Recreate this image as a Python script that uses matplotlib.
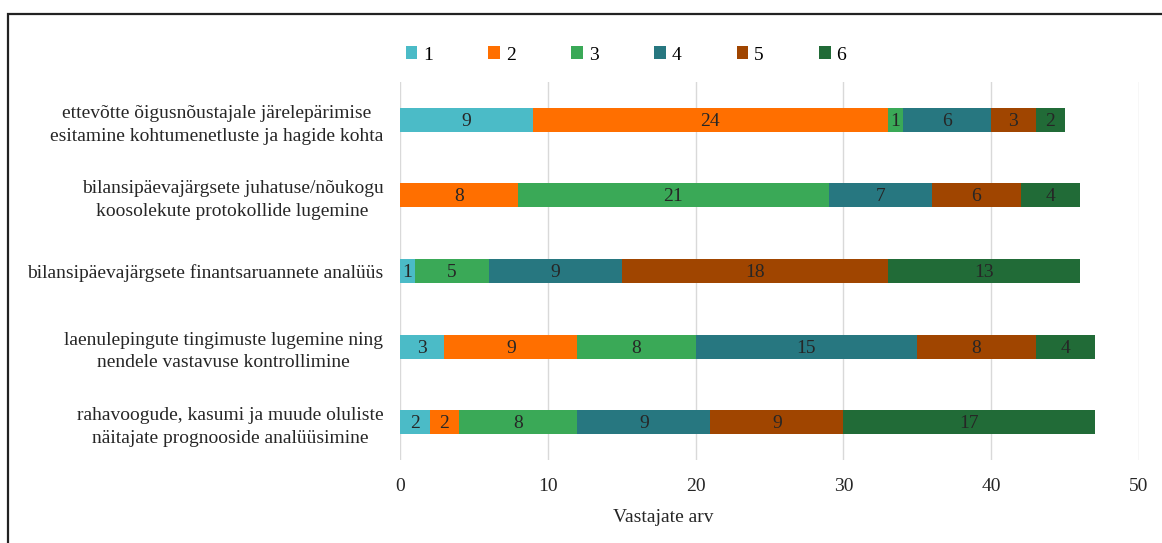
import numpy as np
import matplotlib.pyplot as plt
from matplotlib.patches import Rectangle

plt.rcParams['font.family'] = ['Liberation Serif', 'DejaVu Serif']

# tegevused (ülevalt alla)
categories = [
    "ettevõtte õigusnõustajale järelepärimise\nesitamine kohtumenetluste ja hagide kohta",
    "bilansipäevajärgsete juhatuse/nõukogu\nkoosolekute protokollide lugemine",
    "bilansipäevajärgsete finantsaruannete analüüs",
    "laenulepingute tingimuste lugemine ning\nnendele vastavuse kontrollimine",
    "rahavoogude, kasumi ja muude oluliste\nnäitajate prognooside analüüsimine",
]
series_names = ["1", "2", "3", "4", "5", "6"]
s1 = [9, 0, 1, 3, 2]
s2 = [24, 8, 0, 9, 2]
s3 = [1, 21, 5, 8, 8]
s4 = [6, 7, 9, 15, 9]
s5 = [3, 6, 18, 8, 9]
s6 = [2, 4, 13, 4, 17]
colors = ["#4BBBC7", "#FF6F00", "#3AA957", "#277780", "#A04500", "#216B37"]

fs = 14

fig = plt.figure(figsize=(11.62, 5.43), dpi=100)
ax = fig.add_axes([400/1162, 1-460/543, 739/1162, 378/543])

y = np.arange(len(categories))
left = np.zeros(len(categories))
for name, vals, c in zip(series_names, [s1, s2, s3, s4, s5, s6], colors):
    vals = np.array(vals, dtype=float)
    bars = ax.barh(y, vals, left=left, height=0.32, color=c, label=name, zorder=3)
    for b, v in zip(bars, vals):
        if v > 0:
            ax.text(b.get_x() + b.get_width()/2, b.get_y() + b.get_height()/2 + 0.02,
                    f"{int(v)}", ha='center', va='center', fontsize=fs,
                    color='#262626', zorder=4)
    left += vals

ax.set_xlim(0, 50)
ax.set_ylim(len(categories) - 0.5, -0.5)
ax.set_xticks(np.arange(0, 51, 10))
ax.set_yticks(y)
ax.set_yticklabels(categories, multialignment='center', linespacing=1.45)
ax.tick_params(axis='both', length=0, labelsize=fs, colors='#262626')
ax.tick_params(axis='y', pad=12)
ax.tick_params(axis='x', pad=13)
ax.grid(axis='x', color='#D9D9D9', linewidth=1, zorder=0)
for s in ax.spines.values():
    s.set_visible(False)

ax.set_xlabel("Vastajate arv", fontsize=fs, color='#262626')
ax.xaxis.set_label_coords(0.356, -0.13)

fig.legend(loc='center', bbox_to_anchor=(626/1162, 1-55/543), ncol=6,
           frameon=False, fontsize=fs, handlelength=0.6, handleheight=0.6,
           handletextpad=0.3, columnspacing=2.85)

# rahmen ümber joonise
fig.add_artist(Rectangle((7.5/1162, -0.05), 1.0, 0.05 + 1-13.5/543,
                         transform=fig.transFigure, fill=False,
                         edgecolor='#222222', linewidth=1.6))

fig.savefig("out.png", dpi=100)
